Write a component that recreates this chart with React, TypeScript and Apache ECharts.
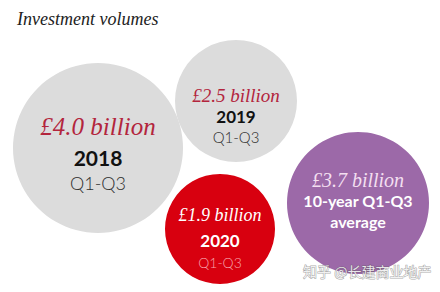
import React, { useEffect, useRef } from "react";
import * as echarts from "echarts";

// ---- data ----
const title = "Investment volumes";
const values = [4.0, 2.5, 1.9, 3.7];
const valueLabels = ["£4.0 billion", "£2.5 billion", "£1.9 billion", "£3.7 billion"];
const periods = ["2018", "2019", "2020", "10-year Q1-Q3"];
const subLabels = ["Q1-Q3", "Q1-Q3", "Q1-Q3", "average"];
const watermark = "知乎 @长建商业地产";

// ---- layout (pixel positions of bubbles, diameters, label offsets) ----
const bubbleX = [98, 236, 220, 358];
const bubbleY = [148, 101, 229, 203];
const bubbleD = [170, 122, 110, 142];
const valueDy = [-22, -6, -14, -23];
const periodDy = [9, 15, 11, -3];
const subDy = [35, 36, 33, 18];

// ---- styles ----
const SERIF = "'Liberation Serif', 'DejaVu Serif', serif";
const SANS = "Lato, 'Open Sans', sans-serif";
const fills = ["#dcdcdc", "#dcdcdc", "#d8000f", "#9c69a8"];
const valueColors = ["#b3253d", "#b3253d", "#ffffff", "#f3dff0"];
const periodColors = ["#111111", "#111111", "#ffffff", "#ffffff"];
const subColors = ["#2e2e2e", "#2e2e2e", "#f7a3ab", "#ffffff"];
const valueSizes = [25, 19, 18, 20];
const periodSizes = [21, 17, 17, 16];
const subSizes = [18, 15, 14, 16];
const subWeights = [300, 300, 300, 700];

export default function App() {
  const ref = useRef<HTMLDivElement>(null);
  useEffect(() => {
    if (!ref.current) return;
    const chart = echarts.init(ref.current, null, { renderer: "svg" });
    const circleData = values.map((v, i) => ({
      value: [bubbleX[i], bubbleY[i], v],
      symbolSize: bubbleD[i],
      itemStyle: { color: fills[i], opacity: 1 },
      label: {
        show: true,
        position: "inside",
        formatter: valueLabels[i],
        fontFamily: SERIF,
        fontStyle: "italic",
        fontWeight: "normal",
        fontSize: valueSizes[i],
        color: valueColors[i],
      },
    }));
    const periodData = values.map((v, i) => ({
      value: [bubbleX[i], bubbleY[i], v],
      symbolSize: 1,
      itemStyle: { color: "rgba(0,0,0,0)", opacity: 1 },
      label: {
        show: true,
        position: "inside",
        formatter: periods[i],
        fontFamily: SANS,
        fontStyle: "normal",
        fontWeight: 700,
        fontSize: periodSizes[i],
        color: periodColors[i],
      },
    }));
    const subData = values.map((v, i) => ({
      value: [bubbleX[i], bubbleY[i], v],
      symbolSize: 1,
      itemStyle: { color: "rgba(0,0,0,0)", opacity: 1 },
      label: {
        show: true,
        position: "inside",
        formatter: subLabels[i],
        fontFamily: SANS,
        fontStyle: "normal",
        fontWeight: subWeights[i],
        fontSize: subSizes[i],
        color: subColors[i],
      },
    }));
    const layoutFor = (dy: number[]) => (params: any) => ({
      dy: dy[params.dataIndex],
      hideOverlap: false,
    });
    chart.setOption({
      animation: false,
      backgroundColor: "#ffffff",
      title: {
        text: title,
        left: 12,
        top: 5,
        textStyle: {
          fontFamily: SERIF,
          fontStyle: "italic",
          fontWeight: "normal",
          fontSize: 18,
          color: "#222222",
        },
      },
      grid: { left: 0, right: 0, top: 0, bottom: 0 },
      xAxis: { type: "value", min: 0, max: 440, show: false },
      yAxis: { type: "value", min: 0, max: 292, inverse: true, show: false },
      series: [
        {
          type: "scatter",
          symbol: "circle",
          data: circleData,
          silent: true,
          z: 2,
          labelLayout: layoutFor(valueDy),
        },
        {
          type: "scatter",
          symbol: "circle",
          data: periodData,
          silent: true,
          z: 3,
          labelLayout: layoutFor(periodDy),
        },
        {
          type: "scatter",
          symbol: "circle",
          data: subData,
          silent: true,
          z: 3,
          labelLayout: layoutFor(subDy),
        },
      ],
      graphic: [
        {
          type: "text",
          right: 8,
          top: 263,
          z: 100,
          style: {
            text: watermark,
            fontFamily: "'Noto Sans CJK SC'",
            fontSize: 14,
            fill: "rgba(255,255,255,0.85)",
            stroke: "rgba(90,90,90,0.55)",
            lineWidth: 1,
          },
        },
      ],
    });
    return () => chart.dispose();
  }, []);
  return (
    <div
      ref={ref}
      style={{ position: "fixed", left: 0, top: 0, width: 440, height: 292 }}
    />
  );
}
